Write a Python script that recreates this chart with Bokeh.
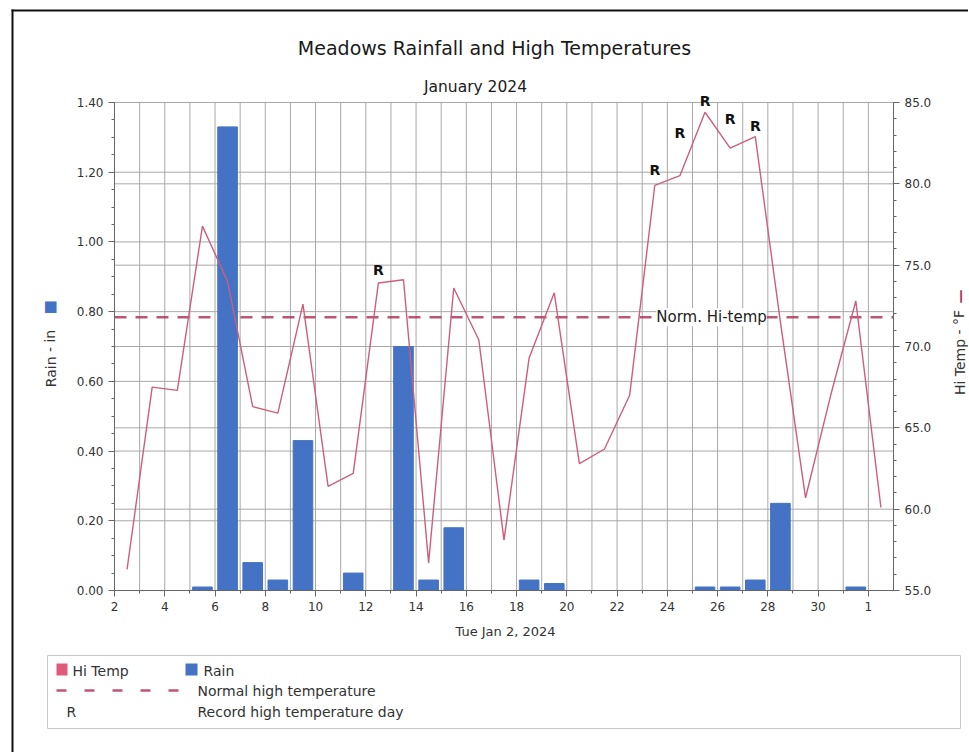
from bokeh.plotting import figure
from bokeh.models import Range1d, LinearAxis, FixedTicker, NumeralTickFormatter, Label
from bokeh.embed import file_html
from bokeh.resources import INLINE
from bokeh.core.properties import value

FONT = "DejaVu Sans"

# ---------------- data ----------------
# day numbers: 2..31 = January, 32 = Feb 1
days = list(range(2, 33))
x_tick_days = [2, 4, 6, 8, 10, 12, 14, 16, 18, 20, 22, 24, 26, 28, 30, 32]
x_tick_labels = ["2", "4", "6", "8", "10", "12", "14", "16", "18", "20",
                 "22", "24", "26", "28", "30", "1"]
rain_in = [0, 0, 0, 0.01, 1.33, 0.08, 0.03, 0.43, 0, 0.05,
           0, 0.70, 0.03, 0.18, 0, 0, 0.03, 0.02, 0, 0,
           0, 0, 0, 0.01, 0.01, 0.03, 0.25, 0, 0, 0.01, 0]
hi_temp_f = [56.3, 67.5, 67.3, 77.4, 74.0, 66.3, 65.9, 72.6, 61.4, 62.2,
             73.9, 74.1, 56.7, 73.6, 70.4, 58.1, 69.3, 73.3, 62.8, 63.7,
             67.0, 79.9, 80.5, 84.4, 82.2, 82.9, 71.5, 60.7, 67.0, 72.8, 60.1]
normal_high_f = 71.8
record_days = [12, 23, 24, 25, 26, 27]
rain_ticks = [0.0, 0.2, 0.4, 0.6, 0.8, 1.0, 1.2, 1.4]
temp_ticks = [55, 60, 65, 70, 75, 80, 85]

TITLE = "Meadows Rainfall and High Temperatures"
SUBTITLE = "January 2024"
XLABEL = "Tue Jan 2, 2024"
LEFT_LABEL = "Rain - in"
RIGHT_LABEL = "Hi Temp - \u00b0F"
NORM_LABEL = "Norm. Hi-temp"
LEGEND_TEXTS = ["Hi Temp", "Rain", "Normal high temperature", "R", "Record high temperature day"]

BAR_COLOR = "#4472c4"
LINE_COLOR = "#cc5f7c"
NORM_COLOR = "#b03a5a"
HI_SWATCH = "#e05a7a"
GRID_COLOR = "#a8a8a8"
AXIS_COLOR = "#666666"
TEXT_COLOR = "#333333"

# ---------------- layout geometry (page pixels) ----------------
W, H = 968, 752
FRAME_L, FRAME_R, FRAME_T, FRAME_B = 114, 893, 102, 590
DAY_START, DAY_END = 2, 33
RAIN_MIN, RAIN_MAX = 0.0, 1.4
TEMP_MIN, TEMP_MAX = 55.0, 85.0


def px2day(px):
    return DAY_START + (px - FRAME_L) * (DAY_END - DAY_START) / (FRAME_R - FRAME_L)


def py2rain(py):
    return RAIN_MIN + (FRAME_B - py) * (RAIN_MAX - RAIN_MIN) / (FRAME_B - FRAME_T)


def py2temp(py):
    return TEMP_MIN + (FRAME_B - py) * (TEMP_MAX - TEMP_MIN) / (FRAME_B - FRAME_T)


p = figure(width=W, height=H, output_backend="svg", toolbar_location=None, title=None,
           x_range=Range1d(px2day(0), px2day(W)),
           y_range=Range1d(py2rain(H), py2rain(0)),
           min_border=0)
p.extra_y_ranges = {"temp": Range1d(py2temp(H), py2temp(0))}
p.outline_line_color = None
p.grid.visible = False
p.background_fill_color = "white"
p.border_fill_color = "white"

# ---------------- grid lines ----------------
p.segment(x0=days, x1=days, y0=[RAIN_MIN] * len(days), y1=[RAIN_MAX] * len(days),
          line_color=GRID_COLOR, line_width=1)
p.segment(x0=[DAY_START] * len(rain_ticks), x1=[DAY_END] * len(rain_ticks),
          y0=rain_ticks, y1=rain_ticks, line_color=GRID_COLOR, line_width=1)
p.segment(x0=[DAY_START] * len(temp_ticks), x1=[DAY_END] * len(temp_ticks),
          y0=temp_ticks, y1=temp_ticks, y_range_name="temp",
          line_color=GRID_COLOR, line_width=1)

# normal high line (behind bars)
p.segment(x0=[DAY_START], x1=[DAY_END], y0=[normal_high_f], y1=[normal_high_f],
          y_range_name="temp", line_color=NORM_COLOR, line_width=2.5,
          line_dash="12 9", line_alpha=0.85)

# ---------------- axes (fixed at the frame edges) ----------------
xa = p.xaxis[0]
xa.fixed_location = RAIN_MIN
xa.bounds = (DAY_START, DAY_END)
xa.ticker = FixedTicker(ticks=x_tick_days, minor_ticks=[d for d in days if d % 2 == 1])
xa.major_label_overrides = {d: l for d, l in zip(x_tick_days, x_tick_labels)}

ya = p.yaxis[0]
ya.fixed_location = DAY_START
ya.bounds = (RAIN_MIN, RAIN_MAX)
ya.ticker = FixedTicker(ticks=rain_ticks, minor_ticks=[round(i * 0.05, 2) for i in range(29)])
ya.formatter = NumeralTickFormatter(format="0.00")

ra = LinearAxis(y_range_name="temp", fixed_location=DAY_END, bounds=(TEMP_MIN, TEMP_MAX),
                ticker=FixedTicker(ticks=temp_ticks, minor_ticks=list(range(55, 86))),
                formatter=NumeralTickFormatter(format="0.0"))
p.add_layout(ra, "right")

for ax in (xa, ya, ra):
    ax.axis_line_color = AXIS_COLOR
    ax.major_tick_line_color = AXIS_COLOR
    ax.minor_tick_line_color = AXIS_COLOR
    ax.major_tick_out = 6
    ax.major_tick_in = 0
    ax.minor_tick_out = 3
    ax.minor_tick_in = 0
    ax.major_label_text_font = FONT
    ax.major_label_text_font_size = "12px"
    ax.major_label_text_color = TEXT_COLOR
    ax.major_label_standoff = 5

# ---------------- data marks ----------------
bar_x = [d + 0.5 for d in days]
p.vbar(x=bar_x, top=rain_in, width=0.78, fill_color=BAR_COLOR, line_color=BAR_COLOR)
p.line(x=bar_x, y=hi_temp_f, y_range_name="temp", line_color=LINE_COLOR, line_width=1.4)

# record markers: just above the line around each record day
r_x, r_y = [], []
for d in record_days:
    i = days.index(d)
    t = hi_temp_f[i]
    c = [t]
    if i > 0:
        c.append((t + hi_temp_f[i - 1]) / 2)
    if i < len(days) - 1:
        c.append((t + hi_temp_f[i + 1]) / 2)
    r_x.append(d + 0.5)
    r_y.append(max(c))
p.text(x=r_x, y=r_y, text=["R"] * len(r_x), y_range_name="temp",
       text_align="center", text_baseline="bottom", y_offset=-3,
       text_font=value(FONT), text_font_style="bold", text_font_size="14px",
       text_color="#111111")

p.add_layout(Label(x=25.76, y=normal_high_f, y_range_name="temp", text=NORM_LABEL,
                   text_align="center", text_baseline="middle",
                   background_fill_color="white", text_font=FONT,
                   text_font_size="15px", text_color="#222222"))


# ---------------- texts around the chart ----------------
def slabel(px, py, text, size, color="#222222", angle=0.0, style="normal", align="center"):
    p.add_layout(Label(x=px, y=H - py, x_units="screen", y_units="screen", text=text,
                       text_align=align, text_baseline="middle", angle=angle,
                       text_font=FONT, text_font_size=size, text_color=color,
                       text_font_style=style))


slabel(494, 47, TITLE, "19px", "#1a1a1a")
slabel(475, 86, SUBTITLE, "15.5px", "#1a1a1a")
slabel(505, 631, XLABEL, "13px", TEXT_COLOR)
slabel(50, 358, LEFT_LABEL, "14px", TEXT_COLOR, angle=1.5708)
slabel(50, 305, "\u25a0", "15px", BAR_COLOR)
slabel(959, 352, RIGHT_LABEL, "14px", TEXT_COLOR, angle=1.5708)
slabel(959, 296, "\u2014", "14px", NORM_COLOR, angle=1.5708, style="bold")

# ---------------- legend panel ----------------
p.quad(left=[px2day(47)], right=[px2day(960)], top=[py2rain(655)], bottom=[py2rain(728)],
       fill_color="white", line_color="#c8c8c8", line_width=1)
p.quad(left=[px2day(56)], right=[px2day(67)], top=[py2rain(663)], bottom=[py2rain(675)],
       fill_color=HI_SWATCH, line_color=None)
p.quad(left=[px2day(185)], right=[px2day(197)], top=[py2rain(663)], bottom=[py2rain(675)],
       fill_color=BAR_COLOR, line_color=None)
p.segment(x0=[px2day(56)], x1=[px2day(196)], y0=[py2rain(690)], y1=[py2rain(690)],
          line_color=NORM_COLOR, line_width=2.5, line_dash="10 18", line_alpha=0.85)
for (lx, ly), txt in zip([(72, 670), (203, 670), (197, 690), (66, 711), (197, 711)], LEGEND_TEXTS):
    slabel(lx, ly, txt, "14px", TEXT_COLOR, align="left")

# ---------------- scan border (left and top) ----------------
p.quad(left=[px2day(11), px2day(11)], right=[px2day(13), px2day(W + 5)],
       top=[py2rain(9), py2rain(9)], bottom=[py2rain(H + 5), py2rain(11)],
       fill_color="#111111", line_color=None)

open("out.html", "w").write(file_html(p, INLINE))
